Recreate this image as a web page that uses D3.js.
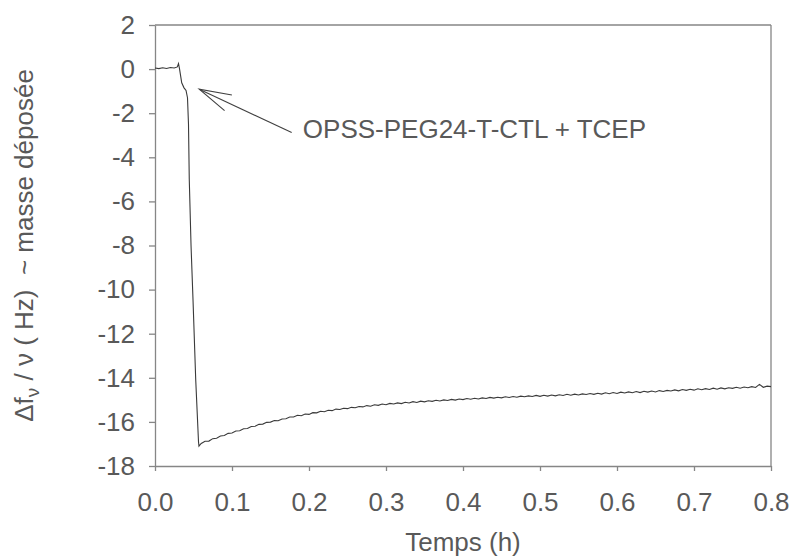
<!DOCTYPE html>
<html>
<head>
<meta charset="utf-8">
<script src="https://cdn.jsdelivr.net/npm/d3@7"></script>
<style>
  body { margin: 0; background: #fff; }
  text { font-family: "Liberation Sans", Arial, sans-serif; fill: #595959; }
</style>
</head>
<body>
<div id="chart"></div>
<script>
// injection step (hours, shift in Hz)
var injectionTime = [0, 0.005, 0.010, 0.015, 0.020, 0.025, 0.029, 0.0305, 0.0318, 0.0347, 0.0377,
  0.0403, 0.0422, 0.0435, 0.0445, 0.0468, 0.0494, 0.0529, 0.0565, 0.0571];
var injectionShift = [0.05, 0.02, 0.06, 0.03, 0.07, 0.05, 0.10, 0.25, 0.02, -0.62, -0.85,
  -0.97, -1.3, -2.5, -5, -8, -10.5, -14.1, -16.9, -17.1];

// slow recovery after the drop, one reading every 0.005 h from 0.060 h
var recoveryStart = 0.06, recoveryStep = 0.005;
var recoveryShift = [
  -16.98, -16.88, -16.87, -16.76, -16.74, -16.64, -16.62, -16.52, -16.50, -16.41,
  -16.40, -16.31, -16.30, -16.21, -16.20, -16.11, -16.10, -16.02, -16.01, -15.94,
  -15.95, -15.87, -15.86, -15.78, -15.78, -15.70, -15.72, -15.64, -15.66, -15.58,
  -15.59, -15.52, -15.54, -15.47, -15.49, -15.42, -15.44, -15.38, -15.40, -15.34,
  -15.36, -15.30, -15.32, -15.26, -15.29, -15.22, -15.25, -15.19, -15.22, -15.16,
  -15.19, -15.14, -15.17, -15.11, -15.14, -15.08, -15.12, -15.06, -15.09, -15.04,
  -15.07, -15.02, -15.05, -15.00, -15.03, -14.98, -15.01, -14.96, -14.99, -14.94,
  -14.97, -14.93, -14.96, -14.91, -14.94, -14.89, -14.92, -14.88, -14.91, -14.86,
  -14.89, -14.85, -14.88, -14.83, -14.86, -14.82, -14.85, -14.80, -14.84, -14.79,
  -14.83, -14.78, -14.82, -14.77, -14.80, -14.75, -14.79, -14.74, -14.78, -14.73,
  -14.76, -14.71, -14.75, -14.70, -14.74, -14.68, -14.72, -14.67, -14.71, -14.65,
  -14.69, -14.64, -14.68, -14.62, -14.67, -14.61, -14.65, -14.60, -14.64, -14.58,
  -14.62, -14.57, -14.60, -14.55, -14.59, -14.53, -14.57, -14.52, -14.56, -14.50,
  -14.54, -14.49, -14.53, -14.47, -14.52, -14.46, -14.50, -14.45, -14.48, -14.43,
  -14.47, -14.42, -14.45, -14.40, -14.44, -14.30, -14.43, -14.38, -14.40];

var xTicks = [0, 0.1, 0.2, 0.3, 0.4, 0.5, 0.6, 0.7, 0.8];
var yTicks = [-18, -16, -14, -12, -10, -8, -6, -4, -2, 0, 2];

var annotationLabel = "OPSS-PEG24-T-CTL + TCEP";
var arrowTip = [0.0575, -0.91], arrowTail = [0.1775, -2.88], labelAt = [0.192, -3.13];

var margin = {top: 25, right: 21, bottom: 93, left: 155},
    width = 792 - margin.left - margin.right,
    height = 559 - margin.top - margin.bottom;

var svg = d3.select("#chart")
  .append("svg")
    .attr("width", 792)
    .attr("height", 559);

var g = svg.append("g")
    .attr("transform", "translate(" + margin.left + "," + margin.top + ")");

var x = d3.scaleLinear().domain([0, 0.8]).range([0, width]);
var y = d3.scaleLinear().domain([-18, 2]).range([height, 0]);

var axisColor = "#868686";

// frame: top and right border
g.append("line").attr("x1", 0).attr("x2", width).attr("y1", 0).attr("y2", 0)
  .attr("stroke", axisColor).attr("stroke-width", 1.3);
g.append("line").attr("x1", width).attr("x2", width).attr("y1", 0).attr("y2", height)
  .attr("stroke", axisColor).attr("stroke-width", 1.3);

var xAxis = g.append("g")
  .attr("transform", "translate(0," + height + ")")
  .call(d3.axisBottom(x).tickValues(xTicks).tickFormat(d3.format(".1f"))
    .tickSize(5).tickSizeOuter(0).tickPadding(22));

var yAxis = g.append("g")
  .call(d3.axisLeft(y).tickValues(yTicks).tickFormat(function(d) { return String(d); })
    .tickSize(6).tickSizeOuter(0).tickPadding(14));

[xAxis, yAxis].forEach(function(a) {
  a.select(".domain").attr("stroke", axisColor).attr("stroke-width", 1.3);
  a.selectAll(".tick line").attr("stroke", axisColor).attr("stroke-width", 1.3);
  a.selectAll(".tick text")
    .style("font-family", "'Liberation Sans', Arial, sans-serif")
    .style("font-size", "26px")
    .attr("fill", "#595959");
});

// curve
var points = injectionTime.map(function(t, i) { return [t, injectionShift[i]]; })
  .concat(recoveryShift.map(function(v, i) { return [recoveryStart + i * recoveryStep, v]; }));

g.append("path")
  .datum(points)
  .attr("fill", "none")
  .attr("stroke", "#3a3a3a")
  .attr("stroke-width", 1.1)
  .attr("d", d3.line()
    .x(function(d) { return x(d[0]); })
    .y(function(d) { return y(d[1]); }));

// annotation arrow
svg.append("defs").append("marker")
    .attr("id", "openArrow")
    .attr("markerUnits", "userSpaceOnUse")
    .attr("viewBox", "-34 -10 36 20")
    .attr("refX", 0).attr("refY", 0)
    .attr("markerWidth", 36).attr("markerHeight", 20)
    .attr("orient", "auto")
  .append("path")
    .attr("d", "M-32,-8.6L0,0L-32,8.6")
    .attr("fill", "none")
    .attr("stroke", "#404040")
    .attr("stroke-width", 1.1);

g.append("line")
  .attr("x1", x(arrowTail[0])).attr("y1", y(arrowTail[1]))
  .attr("x2", x(arrowTip[0])).attr("y2", y(arrowTip[1]))
  .attr("stroke", "#404040")
  .attr("stroke-width", 1.1)
  .attr("marker-end", "url(#openArrow)");

g.append("text")
  .attr("x", x(labelAt[0]))
  .attr("y", y(labelAt[1]))
  .style("font-size", "26px")
  .text(annotationLabel);

// axis titles
svg.append("text")
  .attr("x", margin.left + width / 2)
  .attr("y", 551)
  .attr("text-anchor", "middle")
  .style("font-size", "26px")
  .text("Temps (h)");

var yTitle = svg.append("text")
  .attr("transform", "translate(33," + (margin.top + height / 2) + ") rotate(-90)")
  .attr("text-anchor", "middle")
  .style("font-size", "26px")
  .style("white-space", "pre");
yTitle.append("tspan").text("\u0394f");
yTitle.append("tspan").attr("dy", 6).style("font-size", "19px").text("\u03bd");
yTitle.append("tspan").attr("dy", -6).text(" / \u03bd ( Hz)  ~ masse d\u00e9pos\u00e9e");
</script>
</body>
</html>
